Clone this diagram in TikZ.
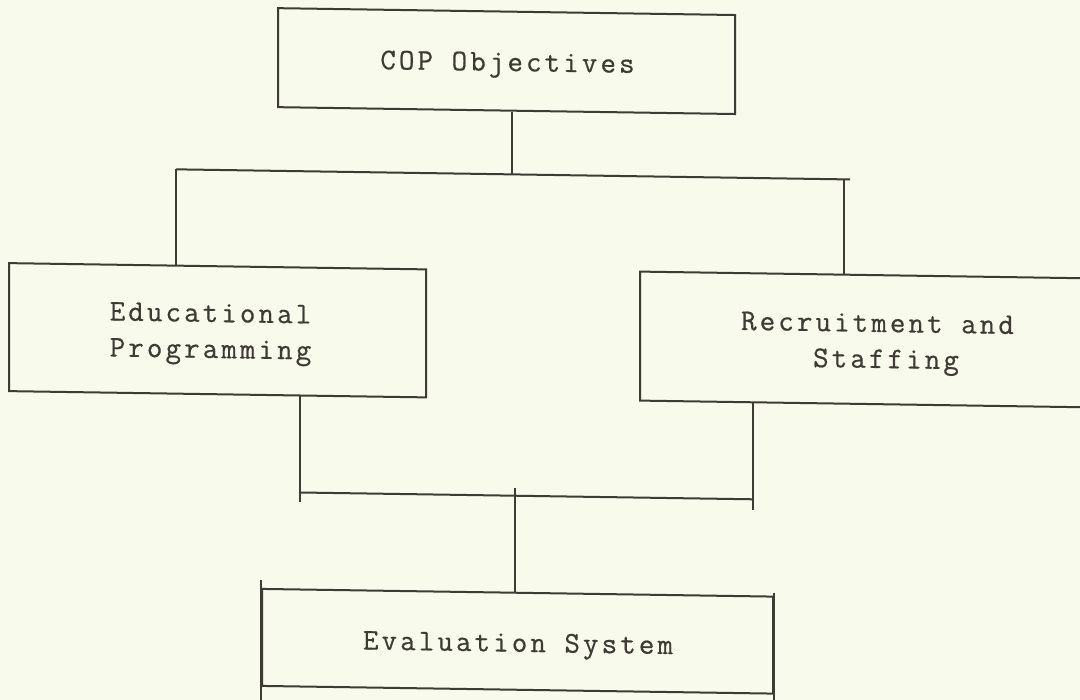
\documentclass[tikz,border=0pt]{standalone}
\usepackage{fontspec}
% typewriter face with the wide spacing of a typed chart
\newfontfamily\tw{Latin Modern Mono}[LetterSpace=10.5,FakeBold=0.6]
\definecolor{paper}{RGB}{248,250,235}
\definecolor{ink}{RGB}{62,58,52}
\begin{document}
\begin{tikzpicture}[x=1pt,y=-1pt,
  frame/.style={draw=ink, line width=2pt, inner sep=0pt},
  typed/.style={anchor=base, inner sep=0pt, text=ink,
    font=\tw\fontsize{30}{36}\selectfont},
  wire/.style={draw=ink, line width=2pt}]
\fill[paper] (0,0) rectangle (1080,700);
\useasboundingbox (0,0) rectangle (1080,700);
\clip (0,0) rectangle (1080,700);
% the typed sheet sits slightly askew: horizontals fall to the right
\begin{scope}[yslant=-0.015, transform shape]
  % boxes
  \node[frame, minimum width=457pt, minimum height=99pt]  (cop)  at (506.5,53.5) {};
  \node[frame, minimum width=417pt, minimum height=128pt] (edu)  at (217.5,327)  {};
  \node[frame, minimum width=476pt, minimum height=129pt] (rec)  at (878,326.5)  {};
  \node[frame, minimum width=511pt, minimum height=97pt]  (eval) at (517.5,633.5) {};

  % typed labels, one line each
  \node[typed] (copT)  at (507.5,63.4)  {COP Objectives};
  \node[typed] (eduT1) at (210.5,318.8) {Educational};
  \node[typed] (eduT2) at (210.5,354.8) {Programming};
  \node[typed] (recT1) at (877.5,318.8) {Recruitment and};
  \node[typed] (recT2) at (886,354.8)   {Staffing};
  \node[typed] (evalT) at (518,644)     {Evaluation System};

  % split from the objectives into the two programmes
  \coordinate (split) at (512,166.7);
  \coordinate (bl) at (176,166.7);
  \coordinate (br) at (844,166.7);
  \draw[wire] (cop.south -| split) -- (split);
  \draw[wire] (bl) -- ++(674,0);
  \draw[wire] (bl) -- (bl |- edu.north);
  \draw[wire] (br) -- (br |- rec.north);

  % join of the two programmes into the evaluation system
  \coordinate (ml) at (300,488);
  \coordinate (mr) at (753,488);
  \coordinate (mm) at (515,488);
  \draw[wire] (edu.south -| ml) -- (ml) -- ++(0,10);
  \draw[wire] (ml) -- (mr);
  \draw[wire] (rec.south -| mr) -- (mr) -- ++(0,11);
  \draw[wire] (mm) ++(0,-8) -- (eval.north -| mm);

  % side rules of the last box run on past its foot
  \draw[wire] (eval.north west) ++(0,-8) -- ++(0,140);
  \draw[wire] (eval.north east) ++(0,-3) -- ++(0,140);
\end{scope}
\end{tikzpicture}
\end{document}
